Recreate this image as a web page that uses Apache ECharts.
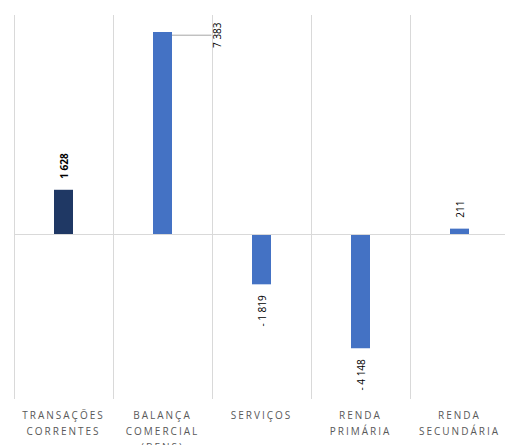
<!DOCTYPE html>
<html>
<head>
<meta charset="utf-8">
<script src="https://cdn.jsdelivr.net/npm/echarts@6/dist/echarts.min.js"></script>
<style>
html,body{margin:0;padding:0;background:#fff;}
#c{width:505px;height:445px;}
</style>
</head>
<body>
<div id="c"></div>
<script>
const categories = ['TRANSAÇÕES\nCORRENTES', 'BALANÇA\nCOMERCIAL\n(BENS)', 'SERVIÇOS', 'RENDA\nPRIMÁRIA', 'RENDA\nSECUNDÁRIA'];
const values = [1628, 7383, -1819, -4148, 211];
const barColors = ['#1F3864', '#4472C4', '#4472C4', '#4472C4', '#4472C4'];
const boldLabel = [true, false, false, false, false];

function fmt(n) {
  const s = String(Math.abs(n)).replace(/\B(?=(\d{3})+(?!\d))/g, ' ');
  return n < 0 ? '- ' + s : s;
}

const data = values.map((v, i) => {
  const item = {
    value: v,
    itemStyle: { color: barColors[i] },
    label: {
      position: v >= 0 ? 'top' : 'bottom',
      align: v >= 0 ? 'left' : 'right',
      fontWeight: boldLabel[i] ? 'bold' : 'normal'
    }
  };
  if (i === 1) {
    item.labelLine = { show: true, lineStyle: { color: '#a6a6a6', width: 1 } };
  }
  return item;
});

const chart = echarts.init(document.getElementById('c'), null, { renderer: 'svg' });
chart.setOption({
  animation: false,
  grid: { left: 14, top: 15, width: 495, height: 384, containLabel: false, outerBoundsMode: 'none' },
  xAxis: {
    type: 'category',
    data: categories,
    axisLine: { show: false },
    axisTick: { show: false },
    splitLine: { show: true, lineStyle: { color: '#d9d9d9', width: 1 } },
    axisLabel: {
      color: '#595959',
      fontFamily: 'Open Sans',
      fontSize: 10,
      lineHeight: 16,
      margin: 8,
      interval: 0
    }
  },
  yAxis: {
    type: 'value',
    min: -6000,
    max: 8000,
    show: false,
    splitLine: { show: false }
  },
  series: [{
    type: 'bar',
    data: data,
    barWidth: 19,
    label: {
      show: true,
      rotate: 90,
      verticalAlign: 'middle',
      distance: 11,
      color: '#000',
      fontFamily: 'Open Sans',
      fontSize: 10,
      formatter: p => fmt(p.value)
    },
    labelLayout: function (p) {
      if (p.dataIndex === 1) return { dx: -27, dy: 54 };
      return {};
    },
    markLine: {
      silent: true,
      symbol: ['none', 'none'],
      label: { show: false },
      lineStyle: { color: '#d9d9d9', width: 1, type: 'solid' },
      data: [{ yAxis: 0 }]
    }
  }]
});

function spaceLetters() {
  document.querySelectorAll('#c svg text').forEach(t => {
    const s = t.textContent || '';
    if (/^[A-ZÁÇÕ()]+$/.test(s.trim())) {
      t.style.letterSpacing = '2px';
    }
  });
}
chart.on('finished', spaceLetters);
spaceLetters();
</script>
</body>
</html>
